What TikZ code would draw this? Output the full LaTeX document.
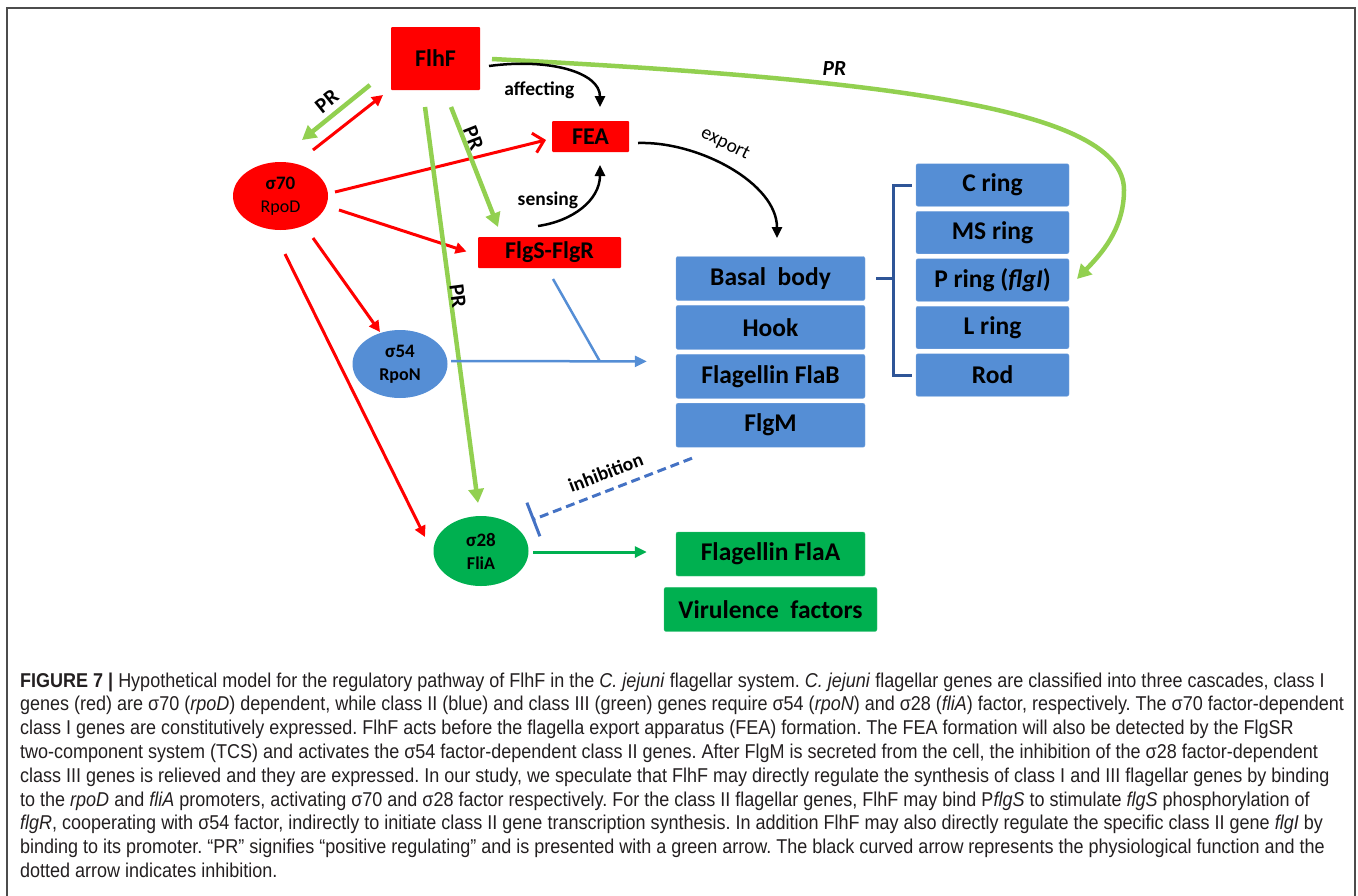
\documentclass[tikz,border=0pt]{standalone}
\usepackage{fontspec}
\setmainfont{Carlito}
\newfontfamily\capfont[FakeStretch=0.9]{Liberation Sans}
\usetikzlibrary{shapes.geometric,arrows.meta,positioning}

\definecolor{clRed}{RGB}{255,0,0}
\definecolor{clGreen}{RGB}{0,176,80}
\definecolor{clLime}{RGB}{146,208,80}
\definecolor{clBlue}{RGB}{85,142,213}
\definecolor{clDark}{RGB}{47,85,151}
\definecolor{clInh}{RGB}{68,114,196}
\definecolor{clText}{RGB}{35,31,32}

\tikzset{
	redbox/.style={rectangle, fill=clRed, rounded corners=1pt, inner sep=0pt, font=\bfseries\fontsize{24}{24}\selectfont},
	partbox/.style={rectangle, fill=clBlue, draw=clBlue!75!white, rounded corners=2pt, inner sep=0pt, minimum width=189pt, minimum height=44pt, font=\bfseries\fontsize{25.5}{25.5}\selectfont},
	ringbox/.style={partbox, minimum width=153pt, minimum height=42.5pt},
	genebox/.style={partbox, fill=clGreen, draw=clGreen!75!white},
	sigma/.style={ellipse, inner sep=0pt, minimum width=95pt, minimum height=68pt, align=center, font=\bfseries\fontsize{19}{23}\selectfont},
	redarr/.style={draw=clRed, line width=3pt, -{Triangle[length=11pt,width=11pt]}},
	prarr/.style={draw=clLime, line width=4.5pt, -{Triangle[length=14pt,width=15pt]}},
	blkarr/.style={draw=black, line width=2.5pt, -{Triangle[length=11pt,width=10pt]}},
	bluearr/.style={draw=clBlue, line width=2.5pt, -{Triangle[length=12pt,width=11pt]}},
	grnarr/.style={draw=clGreen, line width=3pt, -{Triangle[length=12pt,width=11pt]}},
	inharr/.style={draw=clInh, line width=3pt, dash pattern=on 9pt off 5pt, -{Bar[width=36pt,line width=3pt]}},
	lbl/.style={font=\bfseries\fontsize{19.5}{19.5}\selectfont},
	plainlbl/.style={font=\fontsize{19.5}{19.5}\selectfont},
	prlbl/.style={font=\bfseries\fontsize{21.5}{21.5}\selectfont},
	capline/.style={anchor=base west, inner sep=0pt, text=clText, font=\capfont\fontsize{20}{20}\selectfont\frenchspacing},
}

\begin{document}
\begin{tikzpicture}[x=1pt,y=-1pt]
	\useasboundingbox (0,0) rectangle (1358,895);
	\draw[gray!60!black, line width=1.2pt] (7,900) -- (7,8) -- (1355,8) -- (1355,900);

	\node[redbox, minimum width=89pt, minimum height=63pt] (flhf) at (435.5,58.5) {FlhF};
	\node[redbox, minimum width=77pt, minimum height=31pt] (fea) at (590.5,136.5) {FEA};
	\node[redbox, minimum width=143pt, minimum height=31pt] (flgs) at (549.5,252.5) {FlgS-FlgR};
	\node[sigma, fill=clRed] (s70) at (280.5,196) {σ70\\{\mdseries\fontsize{18}{18}\selectfont RpoD}};
	\node[sigma, fill=clBlue] (s54) at (400,364) {σ54\\{\fontsize{18}{18}\selectfont RpoN}};
	\node[sigma, fill=clGreen, minimum height=70pt] (s28) at (481,551) {σ28\\{\fontsize{18}{18}\selectfont FliA}};

	\node[partbox] (basal) at (770.5,278.5) {Basal\ \ body};
	\node[partbox, below=4.5pt of basal] (hook) {Hook};
	\node[partbox, below=4.5pt of hook] (flab) {Flagellin\ FlaB};
	\node[partbox, below=4.5pt of flab] (flgm) {FlgM};

	\node[ringbox] (cring) at (992.5,185) {C ring};
	\node[ringbox, below=4.6pt of cring] (msring) {MS ring};
	\node[ringbox, below=4.6pt of msring] (pring) {P ring (\textit{flgI})};
	\node[ringbox, below=4.6pt of pring] (lring) {L ring};
	\node[ringbox, below=4.6pt of lring] (rod) {Rod};

	\node[genebox] (flaa) at (770.5,554) {Flagellin\ FlaA};
	\node[genebox, minimum width=213pt, below=11pt of flaa] (vir) {Virulence\ \ factors};

	\draw[clDark, line width=3pt] ([xshift=-4pt]cring.west) -- ++(-18,0) |- ([xshift=-4pt]rod.west);
	\draw[clDark, line width=3pt] ([xshift=11pt]basal.east) -- ++(18,0);

	\draw[redarr] ([shift={(32.5,-46)}]s70.center) -- ([shift={(-52.5,36.5)}]flhf.center);
	\draw[redarr, -{Straight Barb[length=10pt,width=20pt]}] ([shift={(54.5,-4)}]s70.center) -- ([shift={(-44.5,3.5)}]fea.center);
	\draw[redarr] ([shift={(58.5,14)}]s70.center) -- ([shift={(-83,-1)}]flgs.center);
	\draw[redarr] ([shift={(32.5,42)}]s70.center) -- ([shift={(-20,-32)}]s54.center);
	\draw[redarr] ([shift={(4.5,58)}]s70.center) -- ([shift={(-56,-14)}]s28.center);

	\draw[prarr] ([shift={(-65.5,26.5)}]flhf.center) -- node[prlbl, sloped, above=2pt] {PR} ([shift={(21.5,-56)}]s70.center);
	\draw[prarr] ([shift={(15.5,48.5)}]flhf.center) -- node[prlbl, sloped, pos=0.29, above=-3pt] {PR} ([shift={(-51.5,-25.5)}]flgs.center);
	\draw[prarr] ([shift={(-10.5,48.5)}]flhf.center) -- node[prlbl, sloped, pos=0.48, above=-5pt] {PR} ([shift={(-3,-48)}]s28.center);
	\draw[prarr] ([shift={(56.5,0.5)}]flhf.center) .. controls (900,80) and (1124,110) .. (1124,190) node[prlbl, pos=0.33, above=3pt] {\itshape PR}
		.. controls (1124,230) and (1100,255) .. ([shift={(84.5,-1)}]pring.center);

	\draw[blkarr] ([shift={(53.5,7.5)}]flhf.center) .. controls +(60,-8) and +(0,-35) .. node[lbl, pos=0.3, anchor=north, yshift=-12pt] {affecting} ([shift={(9.5,-29.5)}]fea.center);
	\draw[blkarr] ([shift={(-11.5,-26.5)}]flgs.center) .. controls +(35,-5) and +(0,35) .. node[lbl, pos=0.2, anchor=south, xshift=-10pt, yshift=8pt] {sensing} ([shift={(9.5,28.5)}]fea.center);
	\draw[blkarr] ([shift={(47.5,6.5)}]fea.center) .. controls +(60,-2) and +(0,-55) .. node[plainlbl, pos=0.42, sloped, above=7pt] {export} ([shift={(6.5,-40.5)}]basal.center);

	\draw[bluearr] ([shift={(51,-3)}]s54.center) -- coordinate[pos=0.76] (jn) ([shift={(-29,34)}]hook.west);
	\draw[clBlue, line width=2.5pt] ([shift={(3.5,26.5)}]flgs.center) -- (jn);
	\draw[inharr] ([shift={(-78.5,33)}]flgm.center) -- node[lbl, sloped, above=6pt] {inhibition} ([shift={(51,-31)}]s28.center);
	\draw[grnarr] ([shift={(52,1)}]s28.center) -- ([shift={(-29,-2)}]flaa.west);

	\foreach \txt [count=\i] in {
		{\textbf{FIGURE 7 |} Hypothetical model for the regulatory pathway of FlhF in the \textit{C. jejuni} flagellar system. \textit{C. jejuni} flagellar genes are classified into three cascades, class I},
		{genes (red) are σ70 (\textit{rpoD}) dependent, while class II (blue) and class III (green) genes require σ54 (\textit{rpoN}) and σ28 (\textit{fliA}) factor, respectively. The σ70 factor-dependent},
		{class I genes are constitutively expressed. FlhF acts before the flagella export apparatus (FEA) formation. The FEA formation will also be detected by the FlgSR},
		{two-component system (TCS) and activates the σ54 factor-dependent class II genes. After FlgM is secreted from the cell, the inhibition of the σ28 factor-dependent},
		{class III genes is relieved and they are expressed. In our study, we speculate that FlhF may directly regulate the synthesis of class I and III flagellar genes by binding},
		{to the \textit{rpoD} and \textit{fliA} promoters, activating σ70 and σ28 factor respectively. For the class II flagellar genes, FlhF may bind P\textit{flgS} to stimulate \textit{flgS} phosphorylation of},
		{\textit{flgR}, cooperating with σ54 factor, indirectly to initiate class II gene transcription synthesis. In addition FlhF may also directly regulate the specific class II gene \textit{flgI} by},
		{binding to its promoter. “PR” signifies “positive regulating” and is presented with a green arrow. The black curved arrow represents the physiological function and the},
		{dotted arrow indicates inhibition.}}
		\node[capline] (cap\i) at (20,{687+23.8*(\i-1)}) {\txt};
\end{tikzpicture}
\end{document}
